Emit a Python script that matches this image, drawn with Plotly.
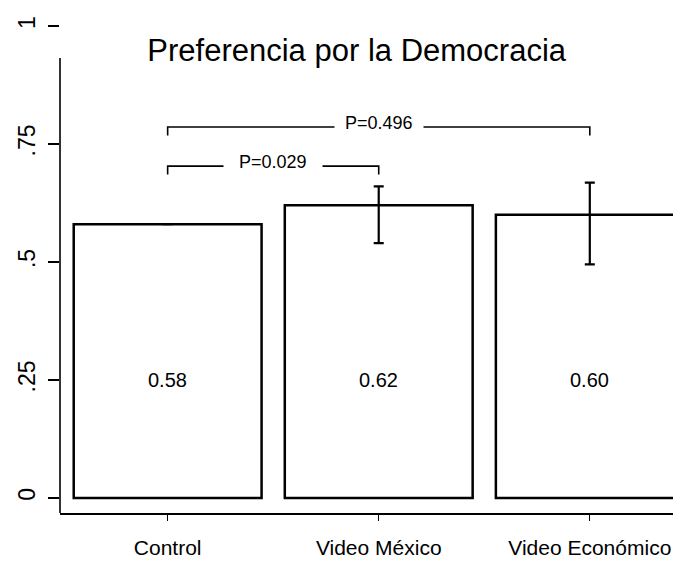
import plotly.graph_objects as go

# ---- data ----
categories = ["Control", "Video México", "Video Económico"]
means = [0.58, 0.62, 0.60]
ci_plus = [0.0, 0.04, 0.068]
ci_minus = [0.0, 0.08, 0.105]
bar_labels = ["0.58", "0.62", "0.60"]
label_level = 0.25
ytick_vals = [0, 0.25, 0.5, 0.75, 1]
ytick_text = ["0", ".25", ".5", ".75", "1"]
brackets = [(0, 2, "P=0.496"), (0, 1, "P=0.029")]
bracket_levels = [0.786, 0.703]
title_text = "Preferencia por la Democracia"

FONT = "Liberation Sans, Arial, sans-serif"

fig = go.Figure()
fig.add_trace(go.Bar(
    x=categories, y=means,
    marker=dict(color="white", line=dict(color="black", width=2.5)),
    width=0.89,
    error_y=dict(type="data", symmetric=False, array=ci_plus, arrayminus=ci_minus,
                 color="black", thickness=2.2, width=5,
                 visible=True),
    showlegend=False,
))

# value labels inside bars
for i, lab in enumerate(bar_labels):
    fig.add_annotation(x=i, y=label_level, text=lab, showarrow=False,
                       font=dict(family=FONT, size=20, color="black"))

# significance brackets
tick_h = 0.018
for (a, b, txt), lev in zip(brackets, bracket_levels):
    fig.add_shape(type="path",
                  path=f"M {a} {lev - tick_h} L {a} {lev} L {b} {lev} L {b} {lev - tick_h}",
                  xref="x", yref="y", line=dict(color="black", width=1.6))
    pad = "\u00a0\u00a0\u00a0" if b - a == 1 else "\u00a0\u00a0"
    fig.add_annotation(x=(a + b) / 2, y=lev, text=pad + txt + pad, showarrow=False,
                       yshift=4, bgcolor="white", borderpad=0,
                       font=dict(family=FONT, size=18, color="black"))

# y axis line (stops short of the top like the original)
fig.add_shape(type="line", xref="paper", yref="y", x0=0, x1=0, y0=-0.032, y1=0.932,
              line=dict(color="black", width=1.6))

fig.update_layout(
    width=681, height=568,
    margin=dict(l=52, r=0, t=0, b=63),
    paper_bgcolor="white", plot_bgcolor="white",
    font=dict(family=FONT, color="black"),
    title=dict(text=title_text, x=0.512, xanchor="center", y=0.925, yanchor="middle",
               font=dict(family=FONT, size=31, color="black")),
    bargap=0.11,
)
fig.update_xaxes(
    range=[-0.51, 2.47], showline=True, linecolor="black", linewidth=1.6,
    ticks="outside", ticklen=6, tickcolor="black", tickwidth=1,
    tickfont=dict(family=FONT, size=21, color="black"),
    ticklabelstandoff=9, showgrid=False, zeroline=False,
)
fig.update_yaxes(
    range=[-0.032, 1.038], showline=False, showgrid=False, zeroline=False,
    tickvals=ytick_vals, ticktext=ytick_text,
    ticks="outside", ticklen=11, tickcolor="black", tickwidth=1.6,
    tickangle=-90, tickfont=dict(family=FONT, size=23, color="black"),
    ticklabelstandoff=4,
)

fig.write_html("out.html")
